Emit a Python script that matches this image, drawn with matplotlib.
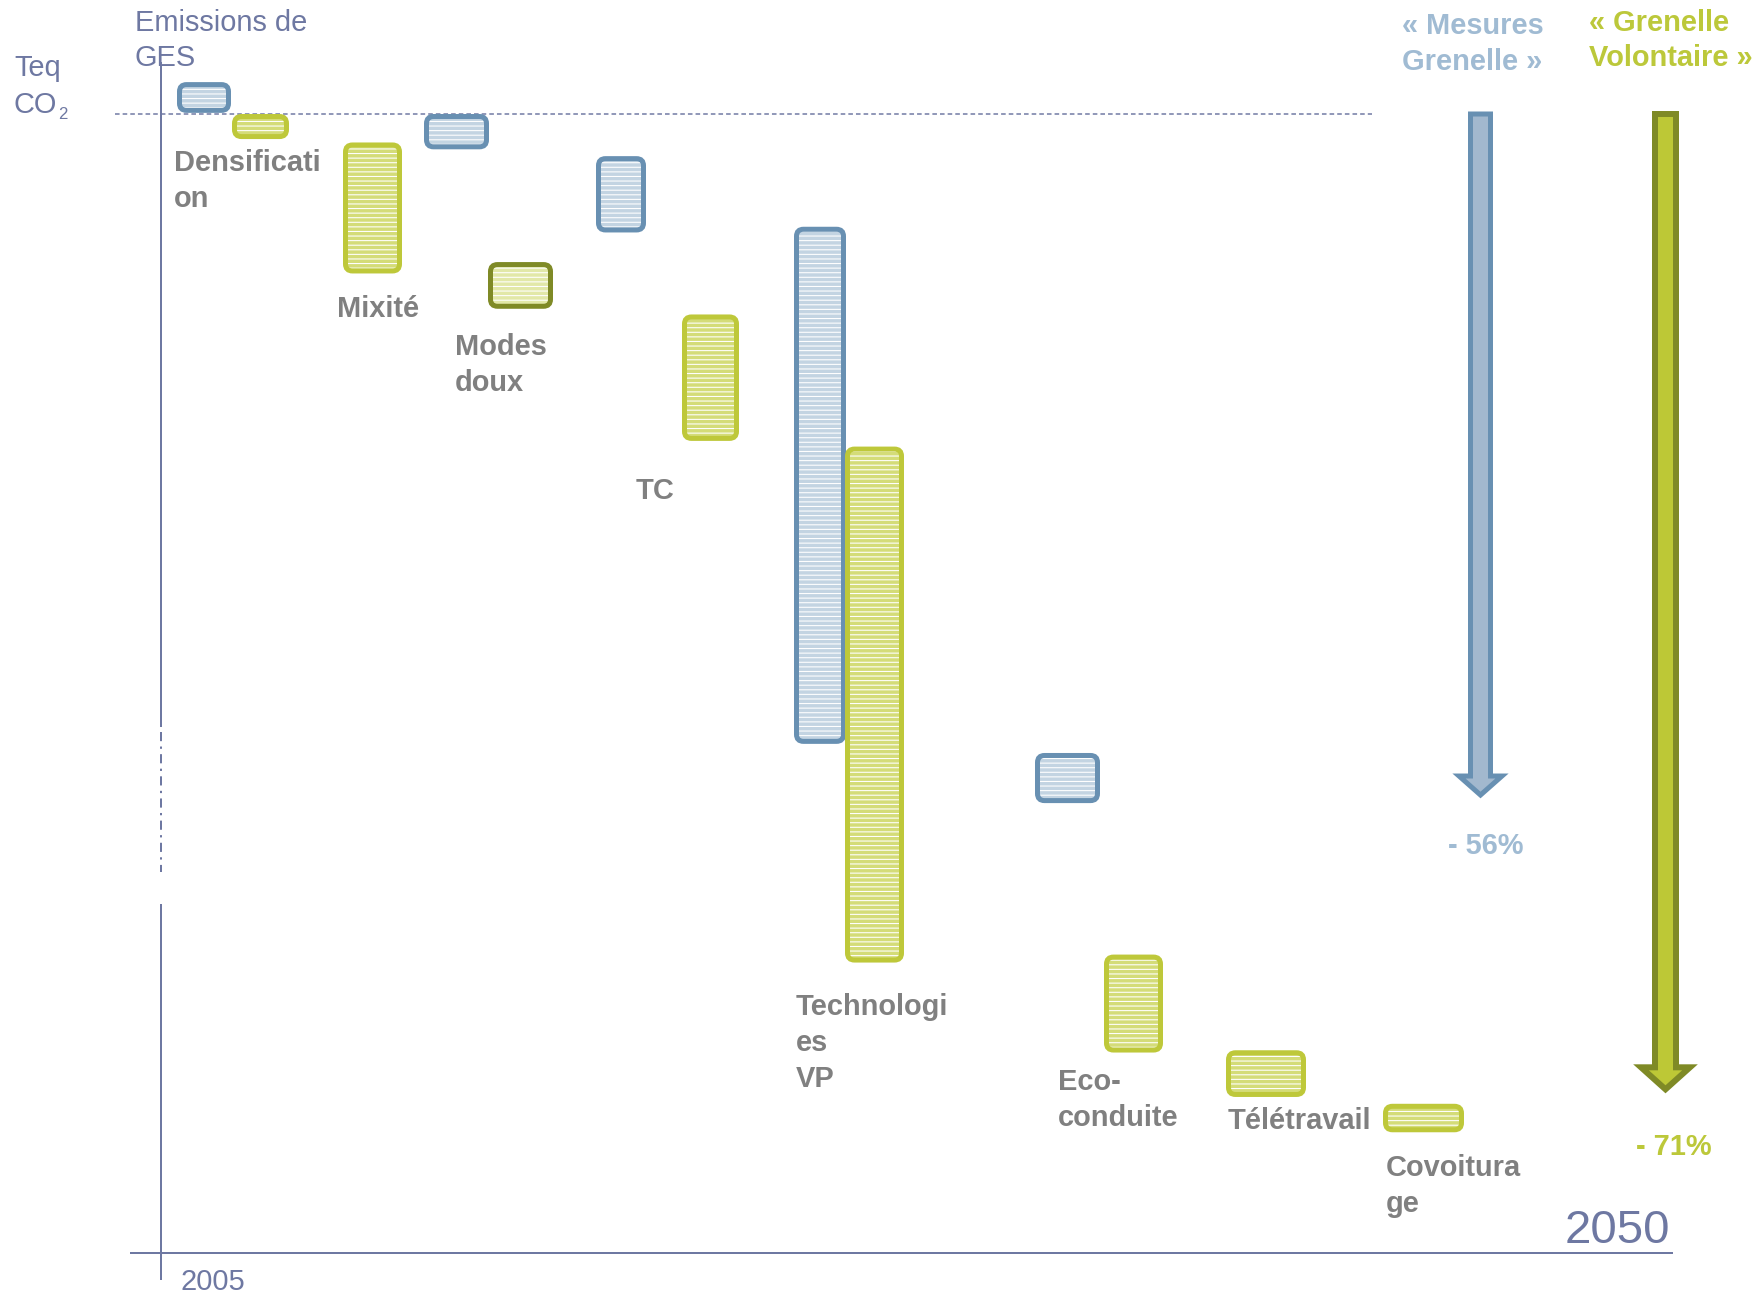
import matplotlib
matplotlib.use("Agg")
import matplotlib.pyplot as plt
from matplotlib.patches import FancyBboxPatch, Polygon

# ---------------------------------------------------------------------------
# Data: emission levels, 2005 level = 100, horizontal axis = 0
# ---------------------------------------------------------------------------
categories = ["Densification", "Mixité", "Modes doux", "TC",
              "Technologies VP", "Eco-conduite", "Télétravail", "Covoiturage"]
category_labels = ["Densificati\non", "Mixité", "Modes\ndoux", "TC",
                   "Technologi\nes\nVP", "Eco-\nconduite", "Télétravail",
                   "Covoitura\nge"]

# "Mesures Grenelle" scenario: level before / after each measure
mesures_start = [102.8, None, 100.0, 96.3, 90.1, 43.9, None, None]
mesures_end = [100.1, None, 96.9, 89.6, 44.7, 39.5, None, None]

# "Grenelle Volontaire" scenario
volontaire_start = [100.0, 97.5, 87.0, 82.4, 70.8, 26.2, 17.8, 13.1]
volontaire_end = [97.8, 86.0, 82.9, 71.3, 25.5, 17.6, 13.7, 10.6]

scenario_names = ["« Mesures\nGrenelle »", "« Grenelle\nVolontaire »"]
scenario_reduction_pct = [56, 71]
arrow_start = [100.0, 100.0]
arrow_end = [39.9, 14.0]

base_level = 100
year_labels = ["2005", "2050"]

# ---------------------------------------------------------------------------
# Layout and styles
# ---------------------------------------------------------------------------
W, H, DPI = 1760, 1295, 110
AXIS_PY = 1253          # pixel row of the level-0 axis
PX_PER_UNIT = 11.39     # vertical pixels per emission unit
PT = 72.0 / DPI         # pixel -> point
LINE_UNIT = 0.89        # matplotlib line step per em at linespacing 1

SLATE = "#6e78a2"
GRAY = "#808080"
BLUE_EDGE, BLUE_FILL = "#6890b2", "#c3d4e2"
GREEN_EDGE, GREEN_FILL = "#bec83a", "#d4dc78"
OLIVE_EDGE, OLIVE_FILL = "#7f8a26", "#e2e8a8"
BLUE_ARROW_FILL, GREEN_ARROW_FILL = "#a2b8ce", "#bdc836"
BLUE_TEXT, GREEN_TEXT = "#a0bbd3", "#bcc83a"

mesures_x = [(177, 231), None, (424, 489), (596, 646), (794, 846),
             (1035, 1100), None, None]
volontaire_x = [(232, 289), (343, 402), (488, 553), (682, 739), (845, 904),
                (1104, 1163), (1226, 1306), (1383, 1464)]
volontaire_style = [(GREEN_EDGE, GREEN_FILL)] * len(categories)
volontaire_style[2] = (OLIVE_EDGE, OLIVE_FILL)

# (x, first baseline) of each category label, in pixels from the top-left
label_pos = [(174, 172), (337, 317), (455, 356), (636, 499), (796, 1016),
             (1058, 1091), (1228, 1129), (1386, 1177)]

FONT = "Liberation Sans"
plt.rcParams["font.family"] = [FONT, "DejaVu Sans"]
plt.rcParams["hatch.linewidth"] = 0.7
plt.rcParams["lines.scale_dashes"] = False

fig = plt.figure(figsize=(W / DPI, H / DPI), dpi=DPI)
ax = fig.add_axes([0, 0, 1, 1])
ax.set_xlim(0, W)
ax.set_ylim((AXIS_PY - H) / PX_PER_UNIT, AXIS_PY / PX_PER_UNIT)
ax.axis("off")


def lvl(py):
    """Pixel row -> emission level."""
    return (AXIS_PY - py) / PX_PER_UNIT


def page_text(x, y, s, size=19, spacing=35, **kw):
    """Place text by the baseline of its first line (pixel coordinates)."""
    n = s.count("\n")
    em_px = size * DPI / 72.0
    fig.text(x / W, 1 - (y + n * spacing) / H, s, ha="left", va="baseline",
             fontsize=size, linespacing=spacing / (LINE_UNIT * em_px), **kw)


def step_box(xspan, start, end, edge, fill, lw_px=5.0, radius=7):
    x0, x1 = xspan
    top, bottom = max(start, end), min(start, end)
    ix, iy = lw_px / 2, lw_px / 2 / PX_PER_UNIT
    geom = dict(xy=(x0 + ix, bottom + iy), width=x1 - x0 - 2 * ix,
                height=top - bottom - 2 * iy,
                boxstyle=f"round,pad=0,rounding_size={radius}",
                mutation_aspect=1 / PX_PER_UNIT)
    ax.add_patch(FancyBboxPatch(facecolor=fill, edgecolor="white",
                                linewidth=0, hatch="----", zorder=2, **geom))
    ax.add_patch(FancyBboxPatch(facecolor="none", edgecolor=edge,
                                linewidth=lw_px * PT, zorder=3, **geom))


def down_arrow(xc, start, end, shaft_half, head_half, head_len, edge, fill,
               lw_px):
    top = start
    tip = end + (lw_px / 2 * 1.41) / PX_PER_UNIT
    back = tip + head_len / PX_PER_UNIT
    verts = [(xc - shaft_half, top), (xc + shaft_half, top),
             (xc + shaft_half, back), (xc + head_half, back), (xc, tip),
             (xc - head_half, back), (xc - shaft_half, back)]
    ax.add_patch(Polygon(verts, closed=True, facecolor=fill, edgecolor=edge,
                         linewidth=lw_px * PT, joinstyle="miter", zorder=3))


# Axes lines: vertical axis with a dash-dot break, horizontal axis at 0
ax.plot([161, 161], [lvl(62), lvl(727)], color=SLATE, lw=2 * PT,
        solid_capstyle="butt")
ax.plot([161, 161], [lvl(732), lvl(872)], color=SLATE, lw=2 * PT,
        linestyle=(0, (6, 3.5, 1.5, 3.5)))
ax.plot([161, 161], [lvl(904), lvl(1280)], color=SLATE, lw=2 * PT,
        solid_capstyle="butt")
ax.plot([130, 1673], [0, 0], color=SLATE, lw=2 * PT, solid_capstyle="butt")

# 2005 reference level
ax.plot([115, 1372], [base_level, base_level], color=SLATE, lw=1.5 * PT,
        linestyle=(0, (3, 2)))

# Measure steps
for i in range(len(categories)):
    if mesures_start[i] is not None:
        step_box(mesures_x[i], mesures_start[i], mesures_end[i],
                 BLUE_EDGE, BLUE_FILL)
    edge, fill = volontaire_style[i]
    step_box(volontaire_x[i], volontaire_start[i], volontaire_end[i],
             edge, fill)

# Scenario arrows
down_arrow(1480.5, arrow_start[0], arrow_end[0], 10, 21.5, 19,
           BLUE_EDGE, BLUE_ARROW_FILL, 5)
down_arrow(1665.5, arrow_start[1], arrow_end[1], 10.5, 24.5, 22,
           OLIVE_EDGE, GREEN_ARROW_FILL, 6)

# Category labels
for (x, y), s in zip(label_pos, category_labels):
    spacing = 35.5 if s.count("\n") > 1 else 35
    page_text(x, y, s, spacing=spacing, fontweight="bold", color=GRAY)

# Titles and annotations
page_text(135, 32, "Emissions de\nGES", spacing=34, color=SLATE)
page_text(14, 77, "Teq\nCO", spacing=36, color=SLATE)
page_text(58, 119, "2", size=11, color=SLATE)

page_text(1402, 35, scenario_names[0], spacing=35, fontweight="bold",
          color=BLUE_TEXT)
page_text(1589, 32, scenario_names[1], spacing=34, fontweight="bold",
          color=GREEN_TEXT)
page_text(1448, 854, f"- {scenario_reduction_pct[0]}%", fontweight="bold",
          color=BLUE_TEXT)
page_text(1636, 1155, f"- {scenario_reduction_pct[1]}%", fontweight="bold",
          color=GREEN_TEXT)

page_text(180, 1290, year_labels[0], color=SLATE)
page_text(1565, 1243, year_labels[1], size=31, color=SLATE)

fig.savefig("out.png", dpi=DPI, facecolor="white")
